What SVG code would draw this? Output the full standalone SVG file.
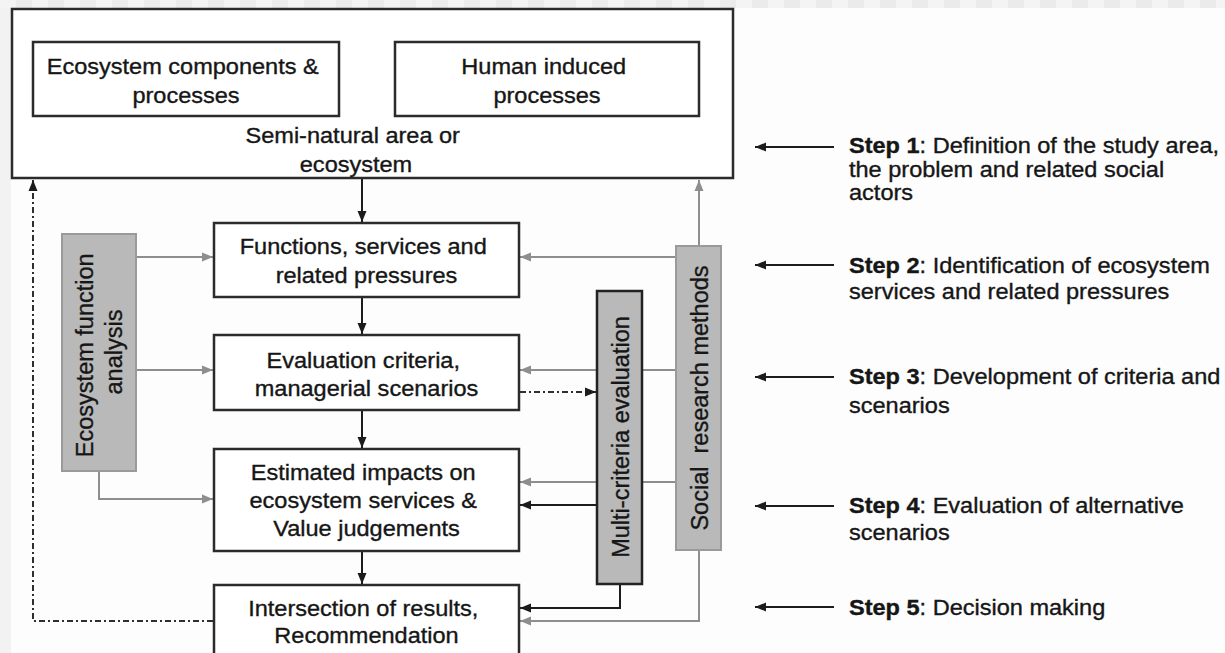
<svg xmlns="http://www.w3.org/2000/svg" width="1225" height="653" viewBox="0 0 1225 653">
  <defs>
    <style>
      .box { fill: #ffffff; stroke: #2b2b2b; stroke-width: 2.5; }
      .gbox { fill: #b9b9b9; stroke: #9a9a9a; stroke-width: 2; }
      .mbox { fill: #b9b9b9; stroke: #222222; stroke-width: 2.5; }
      .t { font-family: "Liberation Sans", Arial, Helvetica, sans-serif; font-size: 22px; fill: #161616; stroke: #161616; stroke-width: 0.35; }
      .rt { font-family: "Liberation Sans", Arial, Helvetica, sans-serif; font-size: 23.5px; fill: #161616; stroke: #161616; stroke-width: 0.35; }
      .b { font-weight: bold; }
      .blk { stroke: #1c1c1c; stroke-width: 2; fill: none; }
      .gry { stroke: #8e8e8e; stroke-width: 2; fill: none; }
      .dd { stroke: #2e2e2e; stroke-width: 2; fill: none; stroke-dasharray: 6 3 2 3; }
    </style>
    <marker id="ah" markerUnits="userSpaceOnUse" markerWidth="12" markerHeight="10" refX="11" refY="5" orient="auto">
      <path d="M0,0.5 L11,5 L0,9.5 z" fill="#1c1c1c"/>
    </marker>
    <marker id="ahg" markerUnits="userSpaceOnUse" markerWidth="12" markerHeight="10" refX="11" refY="5" orient="auto">
      <path d="M0,0.5 L11,5 L0,9.5 z" fill="#8e8e8e"/>
    </marker>
    <pattern id="checker" x="0" y="0" width="32" height="8" patternUnits="userSpaceOnUse">
      <rect x="0" y="0" width="16" height="8" fill="#f4f4f4"/>
      <rect x="16" y="0" width="16" height="8" fill="#ebebeb"/>
    </pattern>
  </defs>

  <!-- backdrop -->
  <rect x="0" y="0" width="1225" height="653" fill="#fdfdfd"/>
  <rect x="0" y="0" width="1225" height="8" fill="url(#checker)"/>
  <rect x="0" y="8" width="11" height="645" fill="#f2f2f2"/>

  <!-- connectors -->
  <g id="connectors">
    <!-- main vertical flow -->
    <line class="blk" x1="362" y1="179" x2="362" y2="222" marker-end="url(#ah)"/>
    <line class="blk" x1="362" y1="298" x2="362" y2="334" marker-end="url(#ah)"/>
    <line class="blk" x1="362" y1="411" x2="362" y2="448" marker-end="url(#ah)"/>
    <line class="blk" x1="362" y1="552" x2="362" y2="584" marker-end="url(#ah)"/>

    <!-- ecosystem function analysis inputs -->
    <line class="gry" x1="137" y1="257" x2="213" y2="257" marker-end="url(#ahg)"/>
    <line class="gry" x1="137" y1="370" x2="213" y2="370" marker-end="url(#ahg)"/>
    <polyline class="gry" points="99,472 99,499 213,499" marker-end="url(#ahg)"/>

    <!-- social research methods inputs -->
    <line class="gry" x1="699" y1="245" x2="699" y2="180" marker-end="url(#ahg)"/>
    <line class="gry" x1="675" y1="257" x2="520" y2="257" marker-end="url(#ahg)"/>
    <line class="gry" x1="675" y1="370" x2="520" y2="370" marker-end="url(#ahg)"/>
    <line class="gry" x1="675" y1="482" x2="520" y2="482" marker-end="url(#ahg)"/>
    <polyline class="gry" points="699,551 699,621 520,621" marker-end="url(#ahg)"/>

    <!-- multi-criteria evaluation outputs -->
    <line class="blk" x1="596" y1="505" x2="520" y2="505" marker-end="url(#ah)"/>
    <polyline class="blk" points="620,585 620,608 520,608" marker-end="url(#ah)"/>

    <!-- scenarios feed the evaluation -->
    <line class="dd" x1="520" y1="392" x2="596" y2="392" marker-end="url(#ah)"/>

    <!-- feedback to the study area -->
    <polyline class="dd" points="213,621 33,621 33,180" marker-end="url(#ah)"/>

    <!-- step pointers -->
    <line class="blk" x1="834" y1="147" x2="755" y2="147" marker-end="url(#ah)"/>
    <line class="blk" x1="834" y1="265" x2="755" y2="265" marker-end="url(#ah)"/>
    <line class="blk" x1="834" y1="377" x2="755" y2="377" marker-end="url(#ah)"/>
    <line class="blk" x1="834" y1="506" x2="755" y2="506" marker-end="url(#ah)"/>
    <line class="blk" x1="834" y1="607" x2="755" y2="607" marker-end="url(#ah)"/>
  </g>

  <!-- study area -->
  <g id="study-area">
    <rect class="box" x="12" y="9" width="721" height="169"/>
    <text class="t" text-anchor="middle" transform="translate(356,143) scale(1.07,1)">
      <tspan x="0" y="0">Semi-natural area or</tspan>
      <tspan x="0" y="29">ecosystem</tspan>
    </text>
  </g>

  <g id="ecosystem-components">
    <rect class="box" x="33" y="42" width="306" height="74"/>
    <text class="t" text-anchor="middle" transform="translate(186,74) scale(1.07,1)">
      <tspan x="0" y="0">Ecosystem components &amp;</tspan>
      <tspan x="0" y="29">processes</tspan>
    </text>
  </g>

  <g id="human-induced">
    <rect class="box" x="395" y="42" width="304" height="74"/>
    <text class="t" text-anchor="middle" transform="translate(547,74) scale(1.07,1)">
      <tspan x="0" y="0">Human induced</tspan>
      <tspan x="0" y="29">processes</tspan>
    </text>
  </g>

  <!-- main process boxes -->
  <g id="functions">
    <rect class="box" x="214" y="223" width="305" height="74"/>
    <text class="t" text-anchor="middle" transform="translate(366.5,254) scale(1.07,1)">
      <tspan x="0" y="0">Functions, services and</tspan>
      <tspan x="0" y="29">related pressures</tspan>
    </text>
  </g>

  <g id="evaluation-criteria">
    <rect class="box" x="214" y="335" width="305" height="75"/>
    <text class="t" text-anchor="middle" transform="translate(366.5,368) scale(1.07,1)">
      <tspan x="0" y="0">Evaluation criteria,</tspan>
      <tspan x="0" y="28">managerial scenarios</tspan>
    </text>
  </g>

  <g id="estimated-impacts">
    <rect class="box" x="214" y="449" width="305" height="102"/>
    <text class="t" text-anchor="middle" transform="translate(366.5,480) scale(1.07,1)">
      <tspan x="0" y="0">Estimated impacts on</tspan>
      <tspan x="0" y="28">ecosystem services &amp;</tspan>
      <tspan x="0" y="56">Value judgements</tspan>
    </text>
  </g>

  <g id="intersection">
    <rect class="box" x="214" y="585" width="305" height="80"/>
    <text class="t" text-anchor="middle" transform="translate(366.5,616) scale(1.07,1)">
      <tspan x="0" y="0">Intersection of results,</tspan>
      <tspan x="0" y="27">Recommendation</tspan>
    </text>
  </g>

  <!-- method bars -->
  <g id="ecosystem-function-analysis">
    <rect class="gbox" x="62" y="234" width="74" height="237"/>
    <text class="rt" text-anchor="middle" transform="translate(93,352) rotate(-90)">
      <tspan x="0" y="0">Ecosystem function</tspan>
      <tspan x="0" y="29">analysis</tspan>
    </text>
  </g>

  <g id="multi-criteria-evaluation">
    <rect class="mbox" x="597" y="291" width="45" height="293"/>
    <text class="rt" text-anchor="middle" transform="translate(629,437) rotate(-90)">Multi-criteria evaluation</text>
  </g>

  <g id="social-research-methods">
    <rect class="gbox" x="676" y="246" width="45" height="304"/>
    <text class="rt" text-anchor="middle" xml:space="preserve" transform="translate(708,398) rotate(-90)">Social  research methods</text>
  </g>

  <!-- step descriptions -->
  <g id="step-1">
    <text class="t" transform="translate(849,153) scale(1.07,1)">
      <tspan x="0" y="0"><tspan class="b">Step 1</tspan>: Definition of the study area,</tspan>
      <tspan x="0" y="24">the problem and related social</tspan>
      <tspan x="0" y="47">actors</tspan>
    </text>
  </g>
  <g id="step-2">
    <text class="t" transform="translate(849,273) scale(1.07,1)">
      <tspan x="0" y="0"><tspan class="b">Step 2</tspan>: Identification of ecosystem</tspan>
      <tspan x="0" y="26">services and related pressures</tspan>
    </text>
  </g>
  <g id="step-3">
    <text class="t" transform="translate(849,384) scale(1.07,1)">
      <tspan x="0" y="0"><tspan class="b">Step 3</tspan>: Development of criteria and</tspan>
      <tspan x="0" y="29">scenarios</tspan>
    </text>
  </g>
  <g id="step-4">
    <text class="t" transform="translate(849,513) scale(1.07,1)">
      <tspan x="0" y="0"><tspan class="b">Step 4</tspan>: Evaluation of alternative</tspan>
      <tspan x="0" y="27">scenarios</tspan>
    </text>
  </g>
  <g id="step-5">
    <text class="t" transform="translate(849,615) scale(1.07,1)">
      <tspan x="0" y="0"><tspan class="b">Step 5</tspan>: Decision making</tspan>
    </text>
  </g>
</svg>
